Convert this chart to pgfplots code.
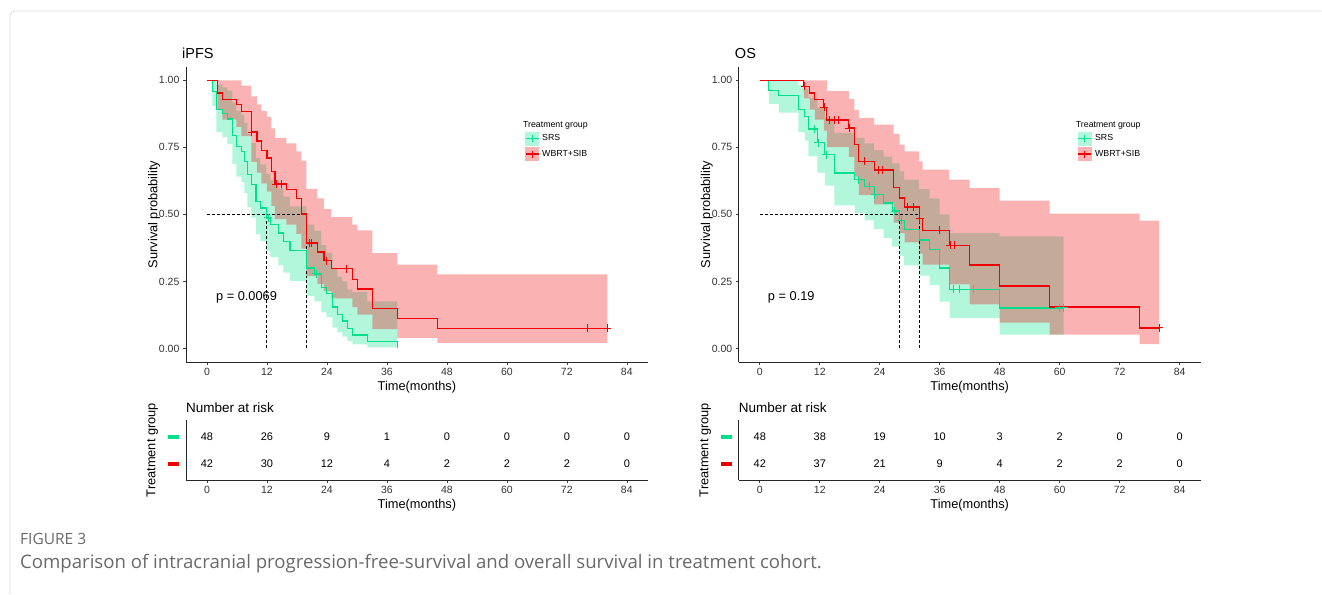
\documentclass[border=0pt]{standalone}
\usepackage{fontspec}
\setmainfont{Liberation Sans}
\newfontfamily\capfont{Open Sans}
\usepackage{pgfplots}
\usepackage{pgfplotstable}
\pgfplotsset{compat=1.18}
\usepgfplotslibrary{fillbetween}
\definecolor{srs}{RGB}{0,224,140}
\definecolor{wbrt}{RGB}{240,0,0}
\definecolor{tickc}{RGB}{50,50,50}
\definecolor{capgray}{RGB}{105,105,105}
\newcommand{\fs}[1]{\fontsize{#1}{#1}\selectfont}

\pgfplotstableread{
x y n
0 2 48
12 2 26
24 2 9
36 2 1
48 2 0
60 2 0
72 2 0
84 2 0
0 1 42
12 1 30
24 1 12
36 1 4
48 1 2
60 1 2
72 1 2
84 1 0
}\riskA
\pgfplotstableread{
x y n
0 2 48
12 2 38
24 2 19
36 2 10
48 2 3
60 2 2
72 2 0
84 2 0
0 1 42
12 1 37
24 1 21
36 1 9
48 1 4
60 1 2
72 1 2
84 1 0
}\riskB

\pgfplotsset{
  base/.style={scale only axis, width=462pt, xmin=-4.2, xmax=88.2,
    axis x line*=bottom, axis y line*=left,
    xtick={0,12,24,36,48,60,72,84},
    tick align=outside, major tick length=3pt,
    tick style={black!75, line width=0.6pt},
    axis line style={black!85, line width=0.7pt},
    ticklabel style={font=\fs{10.5}, text=tickc},
    /pgf/number format/assume math mode=true,
    label style={font=\fs{12.8}, inner sep=0pt},
    xlabel={Time(months)},
    xlabel style={at={(axis description cs:0.5,0)}, anchor=base, yshift=-29pt},
  },
  km/.style={base, height=295.1pt, ymin=-0.05, ymax=1.05,
    ytick={0,0.25,0.5,0.75,1},
    yticklabel style={/pgf/number format/.cd, fixed, fixed zerofill, precision=2, /tikz/.cd},
    ylabel={Survival probability},
    ylabel style={at={(axis description cs:-0.062,0.5)}, anchor=base},
    title style={font=\fs{14.5}, inner sep=0pt, at={(axis description cs:0,1)}, anchor=base west, xshift=-4pt, yshift=2pt},
    legend style={draw=none, fill=none, at={(axis cs:63.6,0.808)}, anchor=north west, inner sep=0pt, row sep=2pt, column sep=2pt, font=\fs{8.8}, nodes={inner sep=1pt}},
    legend cell align=left,
  },
  rk/.style={base, height=59.4pt, ymin=0.4, ymax=2.6, ytick={1,2},
    yticklabels={{\color{wbrt}\rule{11pt}{4pt}},{\color{srs}\rule{11pt}{4pt}}},
    every major y tick/.style={draw=none},
    ylabel={Treatment group},
    ylabel style={at={(axis description cs:-0.066,0.5)}, anchor=base},
    title={Number at risk},
    title style={font=\fs{13.5}, inner sep=0pt, at={(axis description cs:0,1)}, anchor=base west, yshift=1.6pt},
  },
  band/.style={draw=none, const plot, forget plot},
  curve/.style={const plot, line width=1.4pt, forget plot},
  cens/.style={only marks, mark=+, mark size=4pt, line width=1pt, forget plot},
  med/.style={black, line width=0.6pt, dash pattern=on 3pt off 2pt, forget plot},
  risk/.style={only marks, mark=*, mark size=0pt, mark options={draw opacity=0, fill opacity=0}, nodes near coords, point meta=explicit symbolic, every node near coord/.append style={font=\fs{11}, text=black, anchor=center, text opacity=1}},
}

\newcommand{\legendkeys}{%
  \addlegendimage{legend image code/.code={\fill[srs!30] (0pt,-6.5pt) rectangle (13pt,6.5pt); \draw[srs,line width=1.2pt] (0pt,0pt) -- (13pt,0pt); \draw[srs,line width=1pt] (6.5pt,-3.5pt) -- (6.5pt,3.5pt);}}
  \addlegendentry{SRS}
  \addlegendimage{legend image code/.code={\fill[wbrt!30] (0pt,-6.5pt) rectangle (13pt,6.5pt); \draw[wbrt,line width=1.2pt] (0pt,0pt) -- (13pt,0pt); \draw[wbrt,line width=1pt] (6.5pt,-3.5pt) -- (6.5pt,3.5pt);}}
  \addlegendentry{WBRT+SIB}
}

\begin{document}
\begin{tikzpicture}
\path (0,0) rectangle (1322pt,594pt);
\draw[black!15, line width=0.8pt, rounded corners=5pt] (10pt,0pt) -- (10pt,583pt) -- (1322pt,583pt);

% ---------------- iPFS ----------------
\begin{axis}[km, at={(186pt,232pt)}, anchor=south west, title={iPFS}]
\addplot[band, name path=gu] coordinates {(0,1.0) (1.9,0.984) (3.1,0.974) (4.1,0.961) (5.1,0.917) (5.9,0.886) (6.9,0.871) (7.5,0.841) (8.1,0.799) (8.9,0.766) (9.8,0.710) (10.7,0.686) (11.9,0.651) (12.7,0.627) (14.3,0.597) (15.3,0.566) (16.6,0.530) (19.9,0.462) (21.5,0.439) (22.9,0.385) (23.9,0.357) (25.1,0.298) (26.1,0.267) (27.1,0.25) (28.1,0.22) (29.1,0.21) (32.1,0.176) (38.1,0.176)};
\addplot[band, name path=gl] coordinates {(0,1.0) (1.1,0.904) (1.9,0.807) (3.1,0.788) (4.1,0.762) (5.1,0.687) (5.9,0.641) (6.9,0.620) (7.5,0.580) (8.1,0.527) (8.9,0.488) (9.8,0.425) (10.7,0.400) (11.9,0.364) (12.7,0.340) (14.3,0.311) (15.3,0.283) (16.6,0.251) (19.9,0.195) (21.5,0.176) (22.9,0.135) (23.9,0.117) (25.1,0.079) (26.1,0.060) (27.1,0.044) (28.1,0.028) (29.1,0.015) (32.1,0.004) (38.1,0.004)};
\addplot[fill=srs, fill opacity=0.3, draw=none, forget plot] fill between[of=gu and gl];
\addplot[band, name path=ru] coordinates {(0,1.0) (6.9,0.98) (8.9,0.94) (10.0,0.91) (10.9,0.885) (12.0,0.864) (12.9,0.821) (13.6,0.785) (15.9,0.765) (17.9,0.735) (18.9,0.70) (19.9,0.595) (22.1,0.56) (23.4,0.52) (24.9,0.49) (29.1,0.462) (30.1,0.44) (33.1,0.356) (38.1,0.313) (46.1,0.276) (80.1,0.276)};
\addplot[band, name path=rl] coordinates {(0,1.0) (2.1,0.891) (3.1,0.853) (5.9,0.826) (6.9,0.792) (8.9,0.696) (10.0,0.656) (10.9,0.616) (12.0,0.585) (12.9,0.532) (13.6,0.482) (15.9,0.462) (17.9,0.427) (18.9,0.372) (19.9,0.271) (22.1,0.241) (23.4,0.213) (24.9,0.187) (29.1,0.154) (30.1,0.126) (33.1,0.072) (38.1,0.040) (46.1,0.021) (80.1,0.021)};
\addplot[fill=wbrt, fill opacity=0.3, draw=none, forget plot] fill between[of=ru and rl];
\addplot[med] coordinates {(0,0.5) (19.9,0.5)};
\addplot[med] coordinates {(11.9,0) (11.9,0.5)};
\addplot[med] coordinates {(19.9,0) (19.9,0.5)};
\addplot[curve, srs] coordinates {(0,1.0) (1.1,0.959) (1.9,0.891) (3.1,0.876) (4.1,0.856) (5.1,0.794) (5.9,0.754) (6.9,0.735) (7.5,0.698) (8.1,0.649) (8.9,0.611) (9.8,0.549) (10.7,0.524) (11.9,0.487) (12.7,0.462) (14.3,0.431) (15.3,0.400) (16.6,0.365) (19.9,0.300) (21.5,0.278) (22.9,0.228) (23.9,0.204) (25.1,0.154) (26.1,0.127) (27.1,0.102) (28.1,0.075) (29.1,0.050) (32.1,0.025) (38.1,0.0)};
\addplot[curve, wbrt] coordinates {(0,1.0) (2.1,0.953) (3.1,0.928) (5.9,0.909) (6.9,0.884) (8.9,0.807) (10.0,0.773) (10.9,0.738) (12.0,0.710) (12.9,0.661) (13.6,0.613) (15.9,0.593) (17.9,0.559) (18.9,0.502) (19.9,0.394) (22.1,0.360) (23.4,0.328) (24.9,0.298) (29.1,0.257) (30.1,0.222) (33.1,0.149) (38.1,0.112) (46.1,0.075) (80.1,0.075)};
\addplot[cens, srs] coordinates {(12.3,0.487) (21.9,0.278)};
\addplot[cens, wbrt] coordinates {(9.0,0.807) (13.9,0.613) (14.9,0.613) (20.6,0.394) (21.0,0.394) (24.0,0.328) (28.0,0.298) (76.1,0.075) (80.1,0.075)};
\legendkeys
\node[anchor=base west, inner sep=0pt, font=\fs{8.8}] at (axis cs:63.2,0.823) {Treatment group};
\node[anchor=west, inner sep=0pt, font=\fs{12.8}] at (axis cs:1.8,0.19) {p = 0.0069};
\end{axis}

\begin{axis}[rk, at={(186pt,114pt)}, anchor=south west]
\addplot[risk] table[x=x, y=y, meta=n] {\riskA};
\end{axis}

% ---------------- OS ----------------
\begin{axis}[km, at={(739pt,232pt)}, anchor=south west, title={OS}]
\addplot[band, name path=gu] coordinates {(0,1.0) (7.7,0.983) (9.0,0.968) (9.7,0.935) (11.5,0.896) (13.0,0.861) (14.9,0.804) (19.0,0.785) (21.0,0.765) (22.9,0.74) (24.8,0.715) (26.5,0.69) (28.0,0.66) (28.9,0.63) (31.9,0.595) (34.0,0.56) (36.0,0.50) (38.0,0.43) (48.0,0.418) (60.8,0.418)};
\addplot[band, name path=gl] coordinates {(0,1.0) (1.8,0.911) (3.8,0.879) (7.7,0.806) (9.0,0.775) (9.7,0.716) (11.5,0.656) (13.0,0.607) (14.9,0.534) (19.0,0.505) (21.0,0.478) (22.9,0.445) (24.8,0.412) (26.5,0.38) (28.0,0.345) (28.9,0.31) (31.9,0.272) (34.0,0.237) (36.0,0.175) (38.0,0.114) (48.0,0.052) (60.8,0.052)};
\addplot[fill=srs, fill opacity=0.3, draw=none, forget plot] fill between[of=gu and gl];
\addplot[band, name path=ru] coordinates {(0,1.0) (13.4,0.96) (17.8,0.93) (18.9,0.89) (19.8,0.86) (22.9,0.835) (26.8,0.80) (28.0,0.76) (29.0,0.735) (31.9,0.698) (32.6,0.667) (37.9,0.63) (42.0,0.598) (48.0,0.551) (58.0,0.503) (76.0,0.477) (79.9,0.477)};
\addplot[band, name path=rl] coordinates {(0,1.0) (8.8,0.933) (10.0,0.891) (11.0,0.853) (12.8,0.812) (13.4,0.751) (17.8,0.714) (18.9,0.641) (19.8,0.572) (22.9,0.537) (26.8,0.469) (28.0,0.43) (29.0,0.396) (31.9,0.354) (32.6,0.313) (37.9,0.239) (42.0,0.164) (48.0,0.096) (58.0,0.052) (76.0,0.016) (79.9,0.016)};
\addplot[fill=wbrt, fill opacity=0.3, draw=none, forget plot] fill between[of=ru and rl];
\addplot[med] coordinates {(0,0.5) (31.9,0.5)};
\addplot[med] coordinates {(28.0,0) (28.0,0.5)};
\addplot[med] coordinates {(31.9,0) (31.9,0.5)};
\addplot[curve, srs] coordinates {(0,1.0) (1.8,0.963) (3.8,0.943) (7.7,0.890) (9.0,0.866) (9.7,0.818) (11.5,0.767) (13.0,0.723) (14.9,0.655) (19.0,0.630) (21.0,0.605) (22.9,0.574) (24.8,0.543) (26.5,0.512) (28.0,0.478) (28.9,0.443) (31.9,0.405) (34.0,0.369) (36.0,0.30) (38.0,0.221) (48.0,0.151) (60.8,0.151)};
\addplot[curve, wbrt] coordinates {(0,1.0) (8.8,0.977) (10.0,0.953) (11.0,0.928) (12.8,0.899) (13.4,0.852) (17.8,0.822) (18.9,0.76) (19.8,0.698) (22.9,0.665) (26.8,0.60) (28.0,0.561) (29.0,0.527) (31.9,0.484) (32.6,0.44) (37.9,0.385) (42.0,0.311) (48.0,0.233) (58.0,0.155) (76.0,0.077) (79.9,0.077)};
\addplot[cens, srs] coordinates {(10.9,0.818) (11.7,0.767) (13.3,0.723) (19.8,0.630) (22.0,0.605) (23.0,0.574) (27.0,0.512) (28.3,0.478) (38.7,0.221) (39.9,0.221) (42.8,0.221) (59.9,0.151) (60.8,0.151)};
\addplot[cens, wbrt] coordinates {(9.0,0.977) (12.9,0.899) (14.0,0.852) (15.0,0.852) (15.7,0.852) (17.9,0.822) (20.9,0.698) (23.7,0.665) (24.6,0.665) (29.6,0.527) (30.7,0.527) (32.0,0.484) (35.9,0.44) (38.1,0.385) (38.9,0.385) (79.9,0.077)};
\legendkeys
\node[anchor=base west, inner sep=0pt, font=\fs{8.8}] at (axis cs:63.2,0.823) {Treatment group};
\node[anchor=west, inner sep=0pt, font=\fs{12.8}] at (axis cs:1.6,0.19) {p = 0.19};
\end{axis}

\begin{axis}[rk, at={(739pt,114pt)}, anchor=south west]
\addplot[risk] table[x=x, y=y, meta=n] {\riskB};
\end{axis}

% ---------------- caption ----------------
\node[anchor=base west, inner sep=0pt, font=\capfont\fs{15.5}, text=capgray] at (20pt,49pt) {FIGURE 3};
\node[anchor=base west, inner sep=0pt, font=\capfont\fs{18.6}, text=capgray] at (20pt,25.5pt) {Comparison of intracranial progression-free-survival and overall survival in treatment cohort.};
\end{tikzpicture}
\end{document}
